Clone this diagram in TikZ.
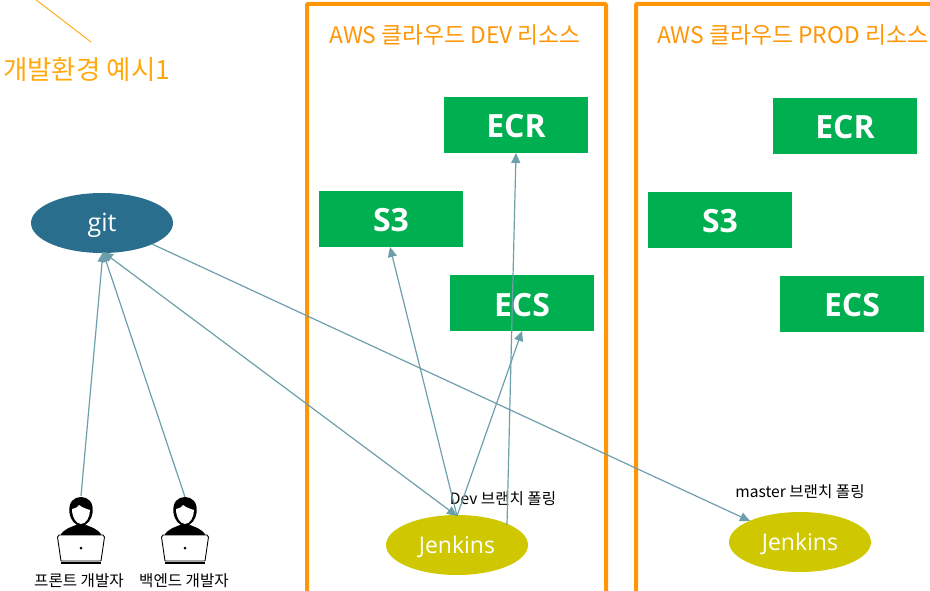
\documentclass[tikz,border=0pt]{standalone}
\usepackage{fontspec}
\setmainfont{Noto Sans CJK KR}
\newfontfamily\latinf{Open Sans}
\usetikzlibrary{arrows.meta,shapes.geometric}
\definecolor{frameo}{HTML}{FF9608}
\definecolor{titleo}{HTML}{FFA90F}
\definecolor{boxg}{HTML}{00B050}
\definecolor{gitb}{HTML}{2A6E8E}
\definecolor{jenk}{HTML}{CFC800}
\definecolor{conn}{HTML}{6C9FAB}
\newcommand{\dn}[2]{\raisebox{-#1pt}[0pt][0pt]{#2}}
\tikzset{
 x=1pt,y=-1pt,
 res/.style={fill=boxg,text=white,minimum width=144pt,minimum height=56pt,inner sep=0,font=\fontsize{32}{32}\selectfont\bfseries},
 oval/.style={ellipse,minimum width=142pt,minimum height=60pt,inner sep=0,text=white,font=\fontsize{23}{23}\selectfont},
 frm/.style={draw=frameo,line width=4pt,rounded corners=1pt},
 ttl/.style={text=frameo,font=\fontsize{22.8}{22.8}\selectfont,inner sep=0},
 lbl/.style={text=black,font=\fontsize{15.6}{15.6}\selectfont,inner sep=0},
 arr/.style={draw=conn,line width=1.2pt,-{Triangle[length=10pt,width=9pt]}},
 dbl/.style={draw=conn,line width=1.2pt,{Triangle[length=10pt,width=9pt]}-{Triangle[length=10pt,width=9pt]}},
}
\newcommand{\person}[2]{%
 \begin{scope}[shift={(#1,#2)}]
  % shoulders
  \fill[black] (-21,19) .. controls (-17,11) and (-9,10) .. (-5,8) -- (5,8) .. controls (9,10) and (17,11) .. (21,19) -- cycle;
  % hair
  \fill[black] (-11.5,-4) .. controls (-13,-15) and (-7,-20) .. (0,-20) .. controls (7,-20) and (13,-15) .. (11.5,-4) .. controls (11,2) and (6,9) .. (0,9) .. controls (-6,9) and (-11,2) .. (-11.5,-4) -- cycle;
  % face
  \fill[white] (-9,-8) .. controls (-5,-9) and (-3,-10) .. (-2,-12) .. controls (2,-9) and (6,-8) .. (9,-7) .. controls (9,0) and (5,7) .. (0,7) .. controls (-5,7) and (-9,0) .. (-9,-8) -- cycle;
  % laptop
  \filldraw[fill=white,draw=black,line width=.9pt,line join=round] (-22,18) -- (22,18) -- (23.5,20) -- (20,44) -- (-20,44) -- (-23.5,20) -- cycle;
  \fill[black] (-20,45) rectangle (20,47);
  \fill[black] (0,31) circle (1.5pt);
 \end{scope}}
\begin{document}
\begin{tikzpicture}
\useasboundingbox (0,0) rectangle (930,591);
\begin{scope}
\clip (0,0) rectangle (930,591);
\draw[frm] (307,596) -- (307,4) -- (606,4) -- (606,596);
\draw[frm] (636,596) -- (636,4) -- (940,4);

\draw[titleo,line width=.9pt] (35,-1) -- (91,42);
\node[anchor=west,text=titleo,font=\fontsize{26.5}{26.5}\selectfont,inner sep=0] (title) at (3,70) {개발환경 예시1};

\node[ttl] (t1) at (455,35) {AWS 클라우드 DEV 리소스};
\node[ttl] (t2) at (792.5,35) {AWS 클라우드 PROD 리소스};

\node[res] (ecr1) at (516,125) {\dn{13}{\latinf\bfseries ECR}};
\node[res] (s31) at (391,219) {\dn{13}{\latinf\bfseries S3}};
\node[res] (ecs1) at (522,303) {\dn{13}{\latinf\bfseries ECS}};
\node[res] (ecr2) at (845,126) {\dn{13}{\latinf\bfseries ECR}};
\node[res] (s32) at (720,220) {\dn{13}{\latinf\bfseries S3}};
\node[res] (ecs2) at (852,304) {\dn{13}{\latinf\bfseries ECS}};

\node[oval,fill=gitb,font=\fontsize{25}{25}\selectfont] (git) at (102,223) {\dn{9}{\latinf git}};
\node[oval,fill=jenk] (jen1) at (457,545) {\dn{8}{\latinf Jenkins}};
\node[oval,fill=jenk] (jen2) at (800,542) {\dn{8}{\latinf Jenkins}};

\person{81}{517}
\person{185}{517}

\node[lbl] (l1) at (79,581) {프론트 개발자};
\node[lbl] (l2) at (184,581) {백엔드 개발자};
\node[lbl] (l3) at (503,499) {Dev 브랜치 폴링};
\node[lbl] (l4) at (800,492) {master 브랜치 폴링};

\coordinate (p1) at (81,496);
\coordinate (p2) at (185,497);
\coordinate (gitb) at (103,252);
\coordinate (gitr) at (152,244);
\coordinate (jt) at (457,516);
\coordinate (jr) at (507,525);
\coordinate (j2t) at (750,521);
\coordinate (s3b) at (390,247);
\coordinate (ecsb) at (522,331);
\coordinate (ecrb) at (516,153);

\draw[arr] (p1) -- (gitb);
\draw[arr] (p2) -- (gitb);
\draw[dbl] (gitb) -- (jt);
\draw[arr] (jt) -- (s3b);
\draw[arr] (jt) -- (ecsb);
\draw[arr] (jr) -- (ecrb);
\draw[arr] (gitr) -- (j2t);
\end{scope}
\end{tikzpicture}
\end{document}
